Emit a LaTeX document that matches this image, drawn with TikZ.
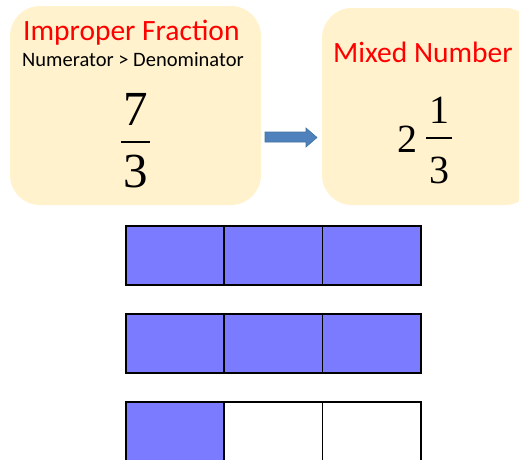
\documentclass[tikz,border=0pt]{standalone}
\usepackage{fontspec}
\setmainfont{Liberation Serif}
\newfontfamily\labelfont{Carlito}
\usetikzlibrary{positioning}
\definecolor{cream}{RGB}{255,242,204}
\definecolor{cellblue}{RGB}{123,123,255}
\definecolor{arrowblue}{RGB}{79,129,189}
\definecolor{arrowedge}{RGB}{65,113,156}
\tikzset{
  card/.style={fill=cream, draw=none, rounded corners=30pt},
  title/.style={text=red, font=\labelfont\fontsize{29.5}{31}\selectfont, inner sep=0pt},
  sub/.style={text=black, font=\labelfont\fontsize{20.5}{22}\selectfont, inner sep=0pt},
  bignum/.style={font=\fontsize{49}{52}\selectfont, inner sep=0pt},
  midnum/.style={font=\fontsize{40}{44}\selectfont, inner sep=0pt},
  bar/.style={line width=1.6pt},
  cell/.style={draw=black, line width=1.6pt, minimum width=98.33pt, minimum height=59pt, inner sep=0pt, anchor=north west},
  full/.style={cell, fill=cellblue},
  empty/.style={cell, fill=white},
}
\begin{document}
\begin{tikzpicture}[x=1pt,y=-1pt]
\useasboundingbox (0,0) rectangle (519,459);
% cards
\path[card] (10,6) rectangle (261,205);
\path[card] (322,8) rectangle (535,205);
% left card texts
\node[title, anchor=base west] (imp) at (23,40) {Improper Fraction};
\node[sub, anchor=base west] (numden) at (22,66) {Numerator > Denominator};
\node[bignum, anchor=base] (seven) at (135.5,125) {7};
\node[bignum, anchor=base] (three) at (135.5,187) {3};
\draw[bar] (121,142) -- (150,142);
% arrow
\filldraw[fill=arrowblue, draw=arrowedge, line width=0.6pt]
  (265,132) -- (306,132) -- (306,128) -- (317,137.5) -- (306,147) -- (306,142) -- (265,142) -- cycle;
% right card texts
\node[title, anchor=base west] (mixed) at (333,62) {Mixed Number};
\node[midnum, anchor=base] (two) at (407.5,152) {2};
\node[midnum, anchor=base] (one) at (439,123) {1};
\node[midnum, anchor=base] (threeb) at (439,183) {3};
\draw[bar] (426,138) -- (452,138);
% bars of thirds
\foreach \r/\y in {1/225, 2/313}{
  \node[full] (r\r a) at (125,\y) {};
  \node[full] (r\r b) at (223.33,\y) {};
  \node[full] (r\r c) at (321.67,\y) {};
}
\node[full] (r3a) at (125,401) {};
\node[empty] (r3b) at (223.33,401) {};
\node[empty] (r3c) at (321.67,401) {};
\end{tikzpicture}
\end{document}
